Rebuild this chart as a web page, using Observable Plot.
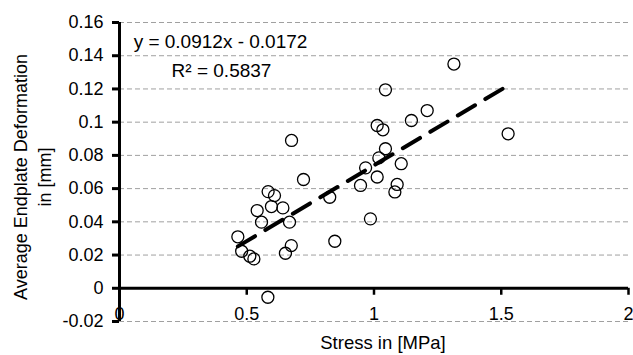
<!DOCTYPE html>
<html>
<head>
<meta charset="utf-8">
<script src="https://cdn.jsdelivr.net/npm/d3@7"></script>
<script src="https://cdn.jsdelivr.net/npm/@observablehq/plot@0.6"></script>
<style>
  html, body { margin: 0; padding: 0; background: #fff; }
</style>
</head>
<body>
<div id="chart"></div>
<script>
// Data
const stress = [0.465, 0.48, 0.512, 0.528, 0.541, 0.558, 0.583, 0.584, 0.597, 0.609,
                0.642, 0.652, 0.668, 0.675, 0.676, 0.723, 0.826, 0.846, 0.947, 0.967,
                0.986, 1.0125, 1.019, 1.0125, 1.035, 1.045, 1.045, 1.082, 1.091, 1.107,
                1.147, 1.209, 1.314, 1.527];
const deformation = [0.031, 0.0223, 0.0193, 0.0177, 0.0468, 0.0398, -0.0054, 0.0582, 0.0492, 0.0558,
                     0.0484, 0.0211, 0.0398, 0.0257, 0.089, 0.0655, 0.0548, 0.0283, 0.0619, 0.0725,
                     0.0418, 0.067, 0.0785, 0.098, 0.0954, 0.084, 0.1195, 0.058, 0.0625, 0.075,
                     0.101, 0.107, 0.135, 0.093];
const slope = 0.0912;
const intercept = -0.0172;
const equationLabel = "y = 0.0912x - 0.0172";
const r2Label = "R\u00B2 = 0.5837";
const xTicks = [0, 0.5, 1, 1.5, 2];
const xTickLabels = ["0", "0.5", "1", "1.5", "2"];
const yTicks = [-0.02, 0, 0.02, 0.04, 0.06, 0.08, 0.1, 0.12, 0.14, 0.16];
const yTickLabels = ["-0.02", "0", "0.02", "0.04", "0.06", "0.08", "0.1", "0.12", "0.14", "0.16"];
const xTitle = "Stress in [MPa]";
const yTitle = "Average Endplate Deformation\nin [mm]";

const points = stress.map((s, i) => ({x: s, y: deformation[i]}));
const xMin = d3.min(stress), xMax = d3.max(stress);
const trend = [{x: xMin, y: slope * xMin + intercept}, {x: xMax, y: slope * xMax + intercept}];

const lookup = (ticks, labels) => d => labels[ticks.findIndex(t => Math.abs(t - d) < 1e-9)];

const font = "Arial, 'Liberation Sans', sans-serif";

const chart = Plot.plot({
  width: 633,
  height: 355,
  marginLeft: 119,
  marginRight: 5,
  marginTop: 22,
  marginBottom: 34,
  style: {fontFamily: font, fontSize: "18px", color: "#000", background: "#fff"},
  x: {domain: [0, 2]},
  y: {domain: [-0.02, 0.16]},
  marks: [
    Plot.ruleY(yTicks.filter(d => d !== 0), {stroke: "#a0a0a0", strokeWidth: 1, strokeDasharray: "5,3"}),
    Plot.axisY({ticks: yTicks, tickFormat: lookup(yTicks, yTickLabels), tickSize: 7, tickPadding: 9,
                strokeWidth: 3, fontSize: 18, label: null, fill: "#000"}),
    Plot.axisX({ticks: xTicks, tickFormat: lookup(xTicks, xTickLabels), tickSize: 0, tickPadding: 0,
                dy: -14, fontSize: 18, label: null, fill: "#000"}),
    Plot.ruleX(xTicks.slice(1), {y1: 0, y2: -0.0042, stroke: "#000", strokeWidth: 2.5}),
    Plot.ruleY([0], {stroke: "#000", strokeWidth: 3}),
    Plot.ruleX([0], {stroke: "#000", strokeWidth: 3}),
    Plot.line(trend, {x: "x", y: "y", stroke: "#000", strokeWidth: 4, strokeDasharray: "20,12"}),
    Plot.dot(points, {x: "x", y: "y", r: 6, stroke: "#000", strokeWidth: 1.3, fill: "none"}),
    Plot.text([equationLabel], {frameAnchor: "top-left", dx: 101, dy: 19, fontSize: 19, textAnchor: "middle", lineAnchor: "middle", fill: "#000"}),
    Plot.text([r2Label], {frameAnchor: "top-left", dx: 102, dy: 48, fontSize: 19, textAnchor: "middle", lineAnchor: "middle", fill: "#000"}),
    Plot.text([xTitle], {frameAnchor: "bottom", dx: 9, dy: 22, fontSize: 18.5, textAnchor: "middle", lineAnchor: "middle", fill: "#000"}),
    Plot.text([yTitle], {frameAnchor: "left", rotate: -90, dx: -88, dy: 5, fontSize: 18, textAnchor: "middle", lineAnchor: "middle", lineHeight: 1.3, fill: "#000"})
  ]
});
document.getElementById("chart").appendChild(chart);
</script>
</body>
</html>
